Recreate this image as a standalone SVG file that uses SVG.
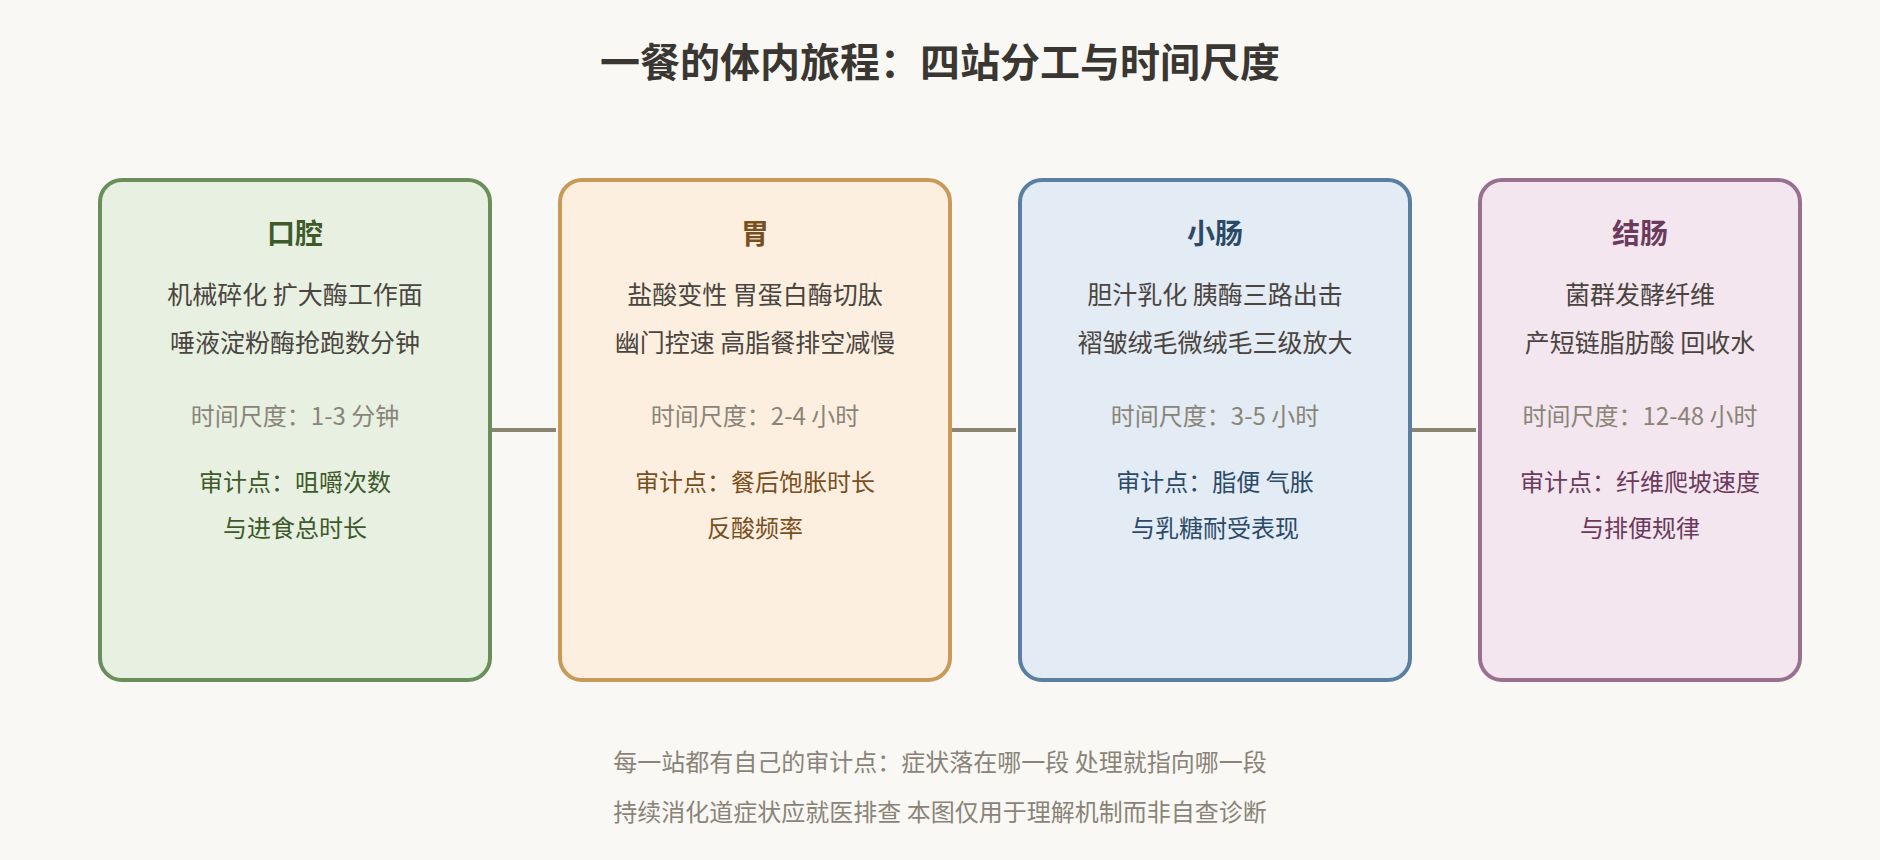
<svg xmlns="http://www.w3.org/2000/svg" width="1880" height="860" viewBox="0 0 1880 860">
<style>
text{font-family:"Noto Sans CJK SC","Noto Sans",sans-serif;text-anchor:middle}
.title{font-size:40px;font-weight:700;fill:#3a3631}
.head{font-size:28px;font-weight:700}
.body{font-size:25px;fill:#4a4540}
.time{font-size:24px;fill:#8a8478}
.audit{font-size:24px}
.foot{font-size:24px;fill:#8a8478}
.box{stroke-width:4}
.conn{stroke:#8a8470;stroke-width:4;fill:none}
</style>
<rect width="1880" height="860" fill="#f9f8f4"/>
<text class="title" x="940" y="77">一餐的体内旅程：四站分工与时间尺度</text>
<g id="connectors">
<line class="conn" x1="490" y1="430" x2="556" y2="430"/>
<line class="conn" x1="950" y1="430" x2="1016" y2="430"/>
<line class="conn" x1="1410" y1="430" x2="1476" y2="430"/>
</g>
<g id="mouth">
<rect class="box" x="100" y="180" width="390" height="500" rx="22" fill="#e8f0e2" stroke="#6b8f5a"/>
<text class="head" x="295" y="244" fill="#3e5a2b">口腔</text>
<text class="body" x="295" y="304">机械碎化 扩大酶工作面</text>
<text class="body" x="295" y="352">唾液淀粉酶抢跑数分钟</text>
<text class="time" x="295" y="425">时间尺度：1-3 分钟</text>
<text class="audit" x="295" y="491" fill="#3e5a2b">审计点：咀嚼次数</text>
<text class="audit" x="295" y="537" fill="#3e5a2b">与进食总时长</text>
</g>
<g id="stomach">
<rect class="box" x="560" y="180" width="390" height="500" rx="22" fill="#fcefdf" stroke="#c9995a"/>
<text class="head" x="755" y="244" fill="#7a4f1e">胃</text>
<text class="body" x="755" y="304">盐酸变性 胃蛋白酶切肽</text>
<text class="body" x="755" y="352">幽门控速 高脂餐排空减慢</text>
<text class="time" x="755" y="425">时间尺度：2-4 小时</text>
<text class="audit" x="755" y="491" fill="#7a4f1e">审计点：餐后饱胀时长</text>
<text class="audit" x="755" y="537" fill="#7a4f1e">反酸频率</text>
</g>
<g id="small-intestine">
<rect class="box" x="1020" y="180" width="390" height="500" rx="22" fill="#e3ebf4" stroke="#5b7fa0"/>
<text class="head" x="1215" y="244" fill="#2b4a68">小肠</text>
<text class="body" x="1215" y="304">胆汁乳化 胰酶三路出击</text>
<text class="body" x="1215" y="352">褶皱绒毛微绒毛三级放大</text>
<text class="time" x="1215" y="425">时间尺度：3-5 小时</text>
<text class="audit" x="1215" y="491" fill="#2b4a68">审计点：脂便 气胀</text>
<text class="audit" x="1215" y="537" fill="#2b4a68">与乳糖耐受表现</text>
</g>
<g id="colon">
<rect class="box" x="1480" y="180" width="320" height="500" rx="22" fill="#f3e6ef" stroke="#9a7090"/>
<text class="head" x="1640" y="244" fill="#6b3a5c">结肠</text>
<text class="body" x="1640" y="304">菌群发酵纤维</text>
<text class="body" x="1640" y="352">产短链脂肪酸 回收水</text>
<text class="time" x="1640" y="425">时间尺度：12-48 小时</text>
<text class="audit" x="1640" y="491" fill="#6b3a5c">审计点：纤维爬坡速度</text>
<text class="audit" x="1640" y="537" fill="#6b3a5c">与排便规律</text>
</g>
<text class="foot" x="940" y="771">每一站都有自己的审计点：症状落在哪一段 处理就指向哪一段</text>
<text class="foot" x="940" y="821">持续消化道症状应就医排查 本图仅用于理解机制而非自查诊断</text>
</svg>
